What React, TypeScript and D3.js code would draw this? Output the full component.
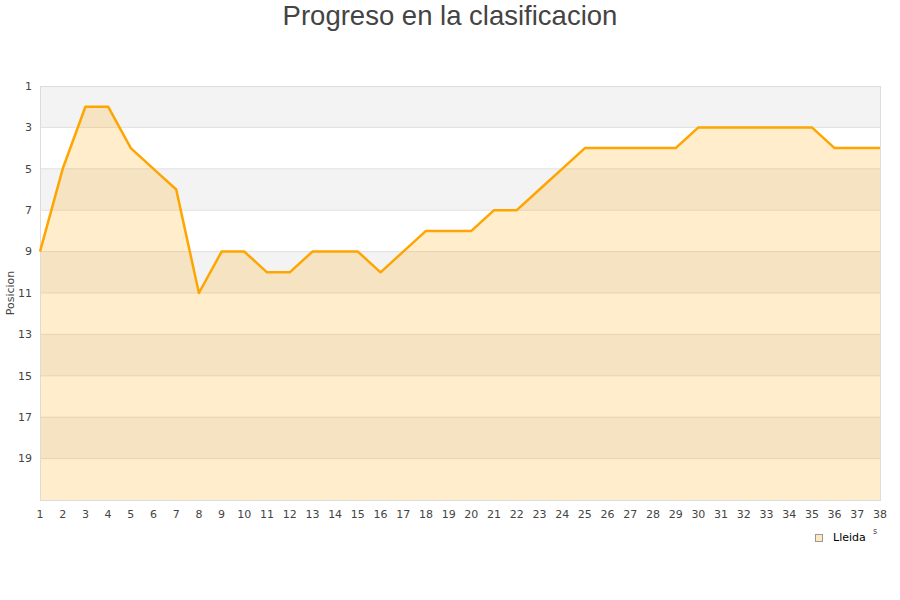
import { useEffect, useRef } from 'react';
import * as d3 from 'd3';

const jornadas = d3.range(1, 39);
const posiciones = [9, 5, 2, 2, 4, 5, 6, 11, 9, 9, 10, 10, 9, 9, 9, 10, 9, 8, 8, 8, 7, 7, 6, 5, 4, 4, 4, 4, 4, 3, 3, 3, 3, 3, 3, 4, 4, 4];
const yTicks = [1, 3, 5, 7, 9, 11, 13, 15, 17, 19];
const equipo = 'Lleida';

export default function App() {
  const svgRef = useRef<SVGSVGElement>(null);

  useEffect(() => {
    if (!svgRef.current) return;
    const svg = d3.select(svgRef.current);
    svg.selectAll('*').remove();

    const left = 40, right = 880, top = 86, bottom = 500;
    const x = d3.scaleLinear().domain([1, 38]).range([left, right]);
    const y = d3.scaleLinear().domain([1, 21]).range([top, bottom]);

    // Stripes
    d3.range(1, 21, 2).forEach((v, i) => {
      svg.append('rect')
        .attr('x', left).attr('y', y(v))
        .attr('width', right - left).attr('height', y(v + 2) - y(v))
        .attr('fill', i % 2 === 0 ? '#f3f3f3' : '#ffffff');
    });

    // Grid lines
    d3.range(3, 21, 2).forEach(v => {
      svg.append('line')
        .attr('x1', left).attr('x2', right)
        .attr('y1', y(v)).attr('y2', y(v))
        .attr('stroke', '#e0e0e0').attr('stroke-width', 1);
    });

    const data = jornadas.map((j, i) => ({ j, p: posiciones[i] }));

    const area = d3.area<{ j: number; p: number }>()
      .x(d => x(d.j))
      .y0(bottom)
      .y1(d => y(d.p));

    svg.append('path')
      .attr('d', area(data) as string)
      .attr('fill', 'rgb(255,165,0)')
      .attr('fill-opacity', 0.2);

    // Plot border
    svg.append('rect')
      .attr('x', left + 0.5).attr('y', top + 0.5)
      .attr('width', right - left).attr('height', bottom - top)
      .attr('fill', 'none').attr('stroke', '#dcdcdc');

    const line = d3.line<{ j: number; p: number }>()
      .x(d => x(d.j))
      .y(d => y(d.p));

    svg.append('path')
      .attr('d', line(data) as string)
      .attr('fill', 'none')
      .attr('stroke', '#ffa500')
      .attr('stroke-width', 2.5)
      .attr('stroke-linejoin', 'round');

    // Y tick labels
    svg.append('g').selectAll('text')
      .data(yTicks)
      .join('text')
      .attr('x', 32)
      .attr('y', d => y(d))
      .attr('dy', '0.35em')
      .attr('text-anchor', 'end')
      .attr('font-family', 'DejaVu Sans, sans-serif')
      .attr('font-size', 11)
      .attr('fill', '#444')
      .text(d => d);

    // X tick labels
    svg.append('g').selectAll('text')
      .data(jornadas)
      .join('text')
      .attr('x', d => x(d))
      .attr('y', 518)
      .attr('text-anchor', 'middle')
      .attr('font-family', 'DejaVu Sans, sans-serif')
      .attr('font-size', 11)
      .attr('fill', '#444')
      .text(d => d);

    // Y axis title
    svg.append('text')
      .attr('transform', `translate(14, 293) rotate(-90)`)
      .attr('text-anchor', 'middle')
      .attr('font-family', 'DejaVu Sans, sans-serif')
      .attr('font-size', 11)
      .attr('fill', '#444')
      .text('Posicion');

    // Title
    svg.append('text')
      .attr('x', 450).attr('y', 25)
      .attr('text-anchor', 'middle')
      .attr('font-family', 'Liberation Sans, Arial, sans-serif')
      .attr('font-size', 27.5)
      .attr('fill', '#444')
      .text('Progreso en la clasificacion');

    // clipped axis title remnant
    svg.append('text')
      .attr('x', 875).attr('y', 534)
      .attr('text-anchor', 'middle')
      .attr('font-family', 'DejaVu Sans, sans-serif')
      .attr('font-size', 8)
      .attr('fill', '#444')
      .text('s');

    // Legend
    svg.append('rect')
      .attr('x', 815.5).attr('y', 534.5)
      .attr('width', 7).attr('height', 7)
      .attr('fill', '#ffe8bf')
      .attr('stroke', '#999');
    svg.append('text')
      .attr('x', 833).attr('y', 541)
      .attr('font-family', 'DejaVu Sans, sans-serif')
      .attr('font-size', 11)
      .attr('fill', '#000')
      .text(equipo);
  }, []);

  return <svg ref={svgRef} width={900} height={600} style={{ position: 'absolute', left: 0, top: 0 }} />;
}
